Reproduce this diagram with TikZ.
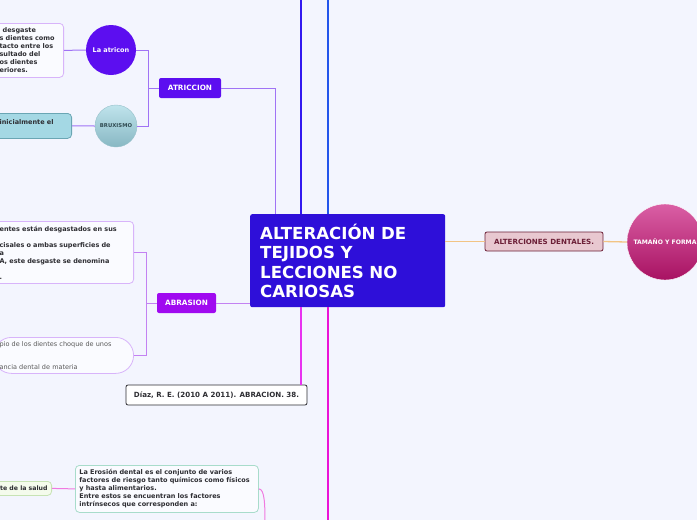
\documentclass[tikz,border=0pt]{standalone}
\usepackage{fontspec}
\setmainfont{DejaVu Sans}
\usepackage{tikz}
\usetikzlibrary{positioning, shapes.geometric}

\definecolor{bgcol}{RGB}{243,245,254}
\definecolor{rootcol}{RGB}{46,15,217}
\definecolor{atrcol}{RGB}{92,14,240}
\definecolor{abrcol}{RGB}{160,10,240}
\definecolor{atrline}{RGB}{160,115,245}
\definecolor{abrline}{RGB}{195,130,242}
\definecolor{boxline}{RGB}{216,180,250}
\definecolor{topviolet}{RGB}{50,25,240}
\definecolor{topblue}{RGB}{35,85,235}
\definecolor{botmag}{RGB}{232,50,240}
\definecolor{botpink}{RGB}{235,20,215}
\definecolor{peachline}{RGB}{242,196,132}
\definecolor{altfill}{RGB}{232,200,208}
\definecolor{altline}{RGB}{107,30,54}
\definecolor{cyanfill}{RGB}{164,216,228}
\definecolor{cyanline}{RGB}{106,166,180}
\definecolor{textgray}{RGB}{45,45,50}
\definecolor{mint}{RGB}{168,220,203}
\definecolor{greenline}{RGB}{199,227,180}
\definecolor{greenfill}{RGB}{244,251,236}
\definecolor{softpink}{RGB}{240,122,224}
\definecolor{tamtop}{RGB}{218,95,165}
\definecolor{tambot}{RGB}{168,18,98}

\begin{document}
\begin{tikzpicture}[
    x=1pt, y=-1pt,
    root/.style={rectangle, fill=rootcol, text=white, rounded corners=2pt, minimum width=195pt, minimum height=93pt, text width=175pt, inner sep=0pt, align=left, font=\fontsize{16.6}{19.5}\selectfont\bfseries},
    branch/.style={rectangle, text=white, rounded corners=2pt, minimum height=20pt, inner sep=0pt, font=\fontsize{7.3}{8}\selectfont\bfseries},
    bubble/.style={circle, inner sep=0pt, font=\fontsize{6.5}{8}\selectfont\bfseries},
    note/.style={rectangle, draw=boxline, line width=0.8pt, fill=white!60!bgcol, rounded corners=4pt, inner xsep=6pt, inner ysep=0pt, align=left, text=textgray, font=\fontsize{6.5}{8}\selectfont\bfseries},
    link/.style={line width=1pt}
]

% Background and frame
\useasboundingbox (0,0) rectangle (697,520);
\fill[bgcol] (0,0) rectangle (697,520);
\clip (0,0) rectangle (697,520);

% Root Node
\node[root, anchor=north west] (root) at (250,214) {ALTERACIÓN DE\\TEJIDOS Y\\LECCIONES NO\\CARIOSAS};

% Level 1 Categories
\node[branch, fill=atrcol, minimum width=62pt] (atric) at (190,88) {ATRICCION};
\node[branch, fill=abrcol, minimum width=59pt] (abr) at (186.5,303) {ABRASION};
\node[branch, fill=altfill, draw=altline, line width=0.8pt, text=altline, minimum width=118pt, minimum height=19pt, font=\fontsize{7.1}{8}\selectfont\bfseries] (alter) at (544,241.5) {ALTERCIONES DENTALES.};
\node[rectangle, fill=white, draw=textgray, line width=0.8pt, rounded corners=2pt, minimum width=181pt, minimum height=20pt, inner sep=0pt, text=textgray, font=\fontsize{7.1}{8}\selectfont\bfseries] (diaz) at (216.5,395) {Díaz, R. E. (2010 A 2011). ABRACION. 38.};

% Level 2 bubbles
\node[bubble, fill=atrcol, text=white, minimum size=50pt] (atricon) at (111,50) {La atricon};
\node[bubble, top color=cyanfill!70!white, bottom color=cyanline!80!white, draw=cyanline!70!white, text=cyanline!45!black, minimum size=42pt, font=\fontsize{5.3}{6}\selectfont\bfseries] (brux) at (116,126) {BRUXISMO};
\node[bubble, top color=tamtop, bottom color=tambot, draw=white, text=white, minimum size=76pt, font=\fontsize{6.1}{8}\selectfont\bfseries] (tam) at (665,242) {TAMAÑO Y FORMA};

% Text notes (cut by the left edge)
\node[note, anchor=north east, text width=58pt, minimum height=54pt] (atrbox) at (64,23) {\hspace{3pt}desgaste\\s dientes como\\tacto entre los\\sultado del\\os dientes\\eriores.};
\node[note, anchor=north east, draw=cyanline, fill=cyanfill, text width=66pt, minimum height=25pt] (cyanbox) at (72,113) {inicialmente el\\\mbox{}};
\node[note, anchor=north east, text width=128pt, minimum height=62pt] (abrbox) at (134,221) {entes están desgastados en sus\\\mbox{}\\cisales o ambas superficies de\\a\\A, este desgaste se denomina\\\mbox{}\\.};
\node[note, anchor=north east, rounded corners=18pt, text width=128pt, minimum height=36pt, text=gray!70!black, font=\fontsize{6.5}{7.7}\selectfont] (pill) at (134,337) {pio de los dientes choque de unos\\\mbox{}\\\mbox{}\\ancia dental de materia};
\node[note, anchor=north east, draw=greenline, fill=greenfill, inner xsep=4pt, minimum height=14pt, font=\fontsize{6.2}{8}\selectfont\bfseries] (salud) at (52,481) {te de la salud};
\node[note, anchor=north west, draw=mint, inner xsep=4pt, text width=175pt, minimum height=47pt] (eros) at (75,465) {La Erosión dental es el conjunto de varios\\factores de riesgo tanto químicos como físicos\\y hasta alimentarios.\\Entre estos se encuentran los factores\\intrínsecos que corresponden a:};

% Free ends outside the frame
\coordinate (rt1) at ([xshift=51pt]root.north west);
\coordinate (rt2) at ([xshift=78pt]root.north west);
\coordinate (rb1) at ([xshift=51pt]root.south west);
\coordinate (rb2) at ([xshift=78pt]root.south west);
\coordinate (topa) at (301,-5);
\coordinate (topb) at (328,-5);
\coordinate (bota) at (328,525);
\coordinate (erosend) at (265,525);

% Connections from the root
\draw[link, draw=atrline] (atric.east) -| ([xshift=25pt]root.north west);
\draw[link, draw=topviolet, line width=1.3pt] (rt1) -- (topa);
\draw[link, draw=topblue, line width=1.3pt] (rt2) -- (topb);
\draw[link, draw=botmag, line width=1.3pt] (rb1) -- (rb1 |- diaz.north);
\draw[link, draw=botpink, line width=1.3pt] (rb2) -- (bota);
\draw[link, draw=abrline] (root.west |- abr.east) -- (abr.east);
\draw[link, draw=peachline, line width=1.3pt] (root.east |- alter.west) -- (alter.west);
\draw[link, draw=peachline, line width=1.3pt] (alter.east) -- (tam.west);

% ATRICCION branch
\draw[link, draw=atrline] (atric.west) -- ++(-10,0);
\draw[link, draw=atrline] (atricon.east) -| ([xshift=-10pt]atric.west) |- (brux.east);
\draw[link, draw=atrline] (atrbox.east) -- (atricon.west);
\draw[link, draw=atrline] (cyanbox.east) -- (brux.west);

% ABRASION branch
\draw[link, draw=abrline] (abr.west) -- ++(-10,0);
\draw[link, draw=abrline] (abrbox.east) -| ([xshift=-10pt]abr.west) |- (pill.east);

% Erosion branch
\draw[link, draw=softpink] (salud.east) -- (eros.west);
\draw[link, draw=softpink] (eros.east) .. controls +(6,0) and +(0,-20) .. (erosend);

\end{tikzpicture}
\end{document}
